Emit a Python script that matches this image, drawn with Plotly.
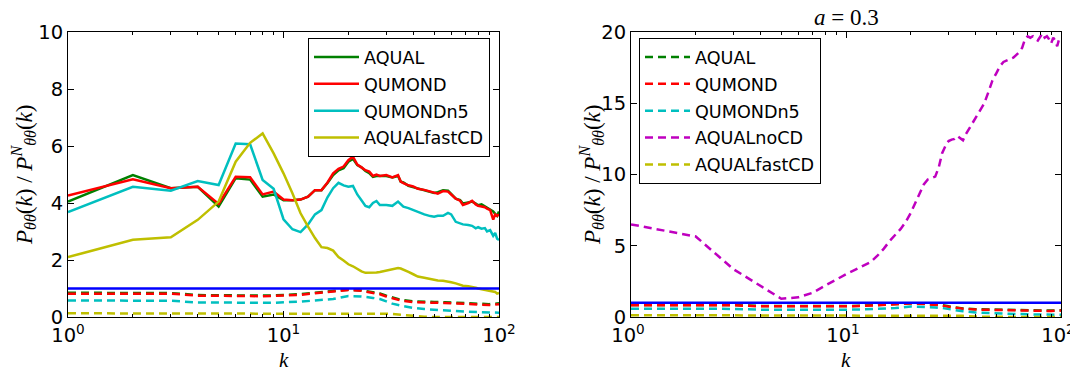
import plotly.graph_objects as go

# ---------------- data ----------------
k_solid = [1, 2, 3, 4, 5, 6, 7, 8, 9, 10, 11, 12, 13, 14, 15, 16, 17, 18, 19, 20, 21,
           22, 23, 24, 25, 26, 27, 28, 30, 32, 34, 35, 36, 38, 40, 42, 45, 48, 50, 52,
           55, 58, 60, 63, 66, 68, 72, 75, 78, 80, 83, 86, 88, 91, 94, 96, 98, 100]

aqual_solid = [4.05, 4.98, 4.52, 4.57, 3.88, 4.87, 4.82, 4.22, 4.30, 4.10, 4.10, 4.12, 4.22,
               4.45, 4.45, 4.70, 4.98, 5.15, 5.22, 5.45, 5.55, 5.33, 5.25, 5.12, 5.05, 4.92,
               4.95, 4.95, 4.95, 4.90, 4.95, 4.75, 4.72, 4.60, 4.55, 4.50, 4.45, 4.38, 4.35,
               4.38, 4.45, 4.43, 4.30, 4.15, 4.10, 3.98, 4.02, 4.05, 3.98, 3.92, 3.95, 3.88,
               3.85, 3.78, 3.70, 3.62, 3.55, 3.70]

qumond_solid = [4.26, 4.83, 4.52, 4.57, 3.97, 4.92, 4.90, 4.30, 4.40, 4.12, 4.10, 4.12, 4.22,
                4.45, 4.45, 4.72, 5.04, 5.20, 5.28, 5.50, 5.63, 5.35, 5.25, 5.15, 5.10, 4.95,
                5.00, 4.95, 4.98, 4.90, 4.98, 4.75, 4.70, 4.62, 4.58, 4.50, 4.46, 4.40, 4.35,
                4.33, 4.42, 4.40, 4.30, 4.15, 4.08, 3.93, 4.00, 4.08, 3.95, 3.90, 3.88, 3.85,
                3.80, 3.75, 3.42, 3.60, 3.55, 3.60]

qumondn5_solid = [3.68, 4.57, 4.43, 4.77, 4.63, 6.09, 6.06, 4.81, 4.50, 3.43, 3.08, 2.98, 3.25,
                  3.60, 3.75, 4.20, 4.52, 4.71, 4.62, 4.57, 4.60, 4.30, 4.10, 3.90, 3.85, 4.00,
                  4.07, 3.93, 3.93, 3.90, 4.05, 3.95, 3.87, 3.82, 3.75, 3.70, 3.60, 3.54, 3.52,
                  3.55, 3.55, 3.65, 3.60, 3.34, 3.30, 3.25, 3.23, 3.20, 3.11, 3.15, 3.10, 3.12,
                  3.00, 3.05, 2.85, 2.95, 2.75, 2.70]

fastcd_solid = [2.10, 2.71, 2.80, 3.41, 4.05, 5.45, 6.11, 6.44, 5.74, 5.04, 4.34, 3.64, 3.17,
                2.77, 2.45, 2.42, 2.33, 2.10, 1.98, 1.85, 1.78, 1.68, 1.60, 1.55, 1.55, 1.57,
                1.56, 1.58, 1.63, 1.68, 1.72, 1.70, 1.65, 1.58, 1.50, 1.42, 1.38, 1.33, 1.31,
                1.28, 1.27, 1.25, 1.22, 1.18, 1.12, 1.10, 1.08, 1.06, 1.03, 1.00, 0.98, 0.96,
                0.95, 0.93, 0.90, 0.88, 0.82, 0.84]

k_dash = [1, 2, 3, 4, 5, 6, 7, 8, 9, 10, 12, 14, 17, 20, 23, 26, 28, 30, 32, 35, 40, 45,
          50, 56, 63, 70, 80, 90, 100]
aqual_dash = [0.85, 0.85, 0.84, 0.77, 0.76, 0.75, 0.75, 0.75, 0.76, 0.77, 0.80, 0.85, 0.92,
              0.96, 0.93, 0.88, 0.83, 0.75, 0.68, 0.60, 0.55, 0.53, 0.53, 0.52, 0.50, 0.48,
              0.46, 0.45, 0.48]
qumond_dash = [0.82, 0.83, 0.82, 0.75, 0.74, 0.73, 0.73, 0.73, 0.74, 0.75, 0.78, 0.83, 0.90,
               0.95, 0.92, 0.86, 0.80, 0.72, 0.65, 0.58, 0.52, 0.50, 0.50, 0.49, 0.48, 0.46,
               0.44, 0.42, 0.45]
qumondn5_dash = [0.58, 0.58, 0.57, 0.51, 0.50, 0.50, 0.50, 0.50, 0.50, 0.51, 0.54, 0.58, 0.63,
                 0.74, 0.72, 0.67, 0.63, 0.55, 0.47, 0.40, 0.32, 0.28, 0.25, 0.24, 0.21, 0.19,
                 0.17, 0.16, 0.15]
fastcd_dash = [0.13, 0.13, 0.13, 0.13, 0.13, 0.13, 0.13, 0.13, 0.13, 0.13, 0.13, 0.13, 0.13,
               0.13, 0.13, 0.13, 0.13, 0.12, 0.11, 0.08, 0.03, 0.01, 0.0, 0.0, 0.0, 0.0,
               0.0, 0.0, 0.0]

k_nocd = [1, 2, 3, 4, 5, 6, 7, 8, 9, 10, 11, 12, 13, 14, 15, 16, 17, 18, 19, 20, 21, 22,
          23, 24, 25, 26, 27, 28, 29, 30, 31, 32, 33, 34, 35, 36, 38, 40, 42, 44, 46, 48,
          50, 52, 54, 56, 58, 60, 62, 64, 66, 68, 70, 72, 74, 76, 78, 80, 82, 84, 86, 88,
          90, 92, 94, 96, 98, 100]
aqual_nocd = [6.50, 5.65, 3.35, 2.15, 1.28, 1.38, 1.70, 2.20, 2.65, 3.00, 3.30, 3.60, 3.85,
              4.30, 4.80, 5.35, 5.80, 6.20, 6.70, 7.30, 8.00, 8.70, 9.30, 9.65, 9.75, 9.85,
              10.50, 11.50, 12.00, 12.35, 12.45, 12.50, 12.70, 12.55, 12.40, 12.80, 13.40,
              13.90, 14.50, 15.00, 15.80, 16.60, 17.10, 17.60, 17.90, 18.00, 18.10, 18.20,
              18.40, 18.60, 18.90, 19.50, 19.70, 19.60, 19.70, 19.50, 19.40, 19.70, 19.90,
              19.60, 19.70, 19.50, 19.20, 19.60, 19.40, 19.00, 19.50, 19.30]

k_ref = [1, 100]
ref_line = [1.0, 1.0]

left_ticks_y = [0, 2, 4, 6, 8, 10]
right_ticks_y = [0, 5, 10, 15, 20]
x_tickvals = [1, 10, 100]
x_ticktext = ["10<sup>0</sup>", "10<sup>1</sup>", "10<sup>2</sup>"]
minor_vals = [2, 3, 4, 5, 6, 7, 8, 9, 20, 30, 40, 50, 60, 70, 80, 90]

# ---------------- styling ----------------
GREEN, RED, CYAN, MAG, YEL, BLUE = "#008000", "#ff0000", "#00bfbf", "#bf00bf", "#bfbf00", "#0000ff"
LW = 2.5
DASH = "8px,5px"
SANS = "DejaVu Sans"
SERIF = "Liberation Serif"

# page body has an 8px margin: the figure starts at (8, 8) in the window
OFF = 8
W, H = 1078 - OFF, 371 - OFF

def px(X):
    return (X - OFF) / W

def py(Y):
    return (H - (Y - OFF)) / H

fig = go.Figure()

for i, (name, y, c) in enumerate([("AQUAL", aqual_solid, GREEN), ("QUMOND", qumond_solid, RED),
                                  ("QUMONDn5", qumondn5_solid, CYAN),
                                  ("AQUALfastCD", fastcd_solid, YEL)]):
    fig.add_trace(go.Scatter(x=k_solid, y=y, mode="lines", name=name,
                             line=dict(color=c, width=LW), legend="legend",
                             legendgroup=f"L{i}", xaxis="x", yaxis="y"))
for y, c in [(aqual_dash, GREEN), (qumond_dash, RED), (qumondn5_dash, CYAN), (fastcd_dash, YEL)]:
    fig.add_trace(go.Scatter(x=k_dash, y=y, mode="lines", showlegend=False,
                             line=dict(color=c, width=LW, dash=DASH),
                             xaxis="x", yaxis="y"))
fig.add_trace(go.Scatter(x=k_ref, y=ref_line, mode="lines", showlegend=False,
                         line=dict(color=BLUE, width=LW), xaxis="x", yaxis="y"))

for i, (name, kx, y, c) in enumerate([("AQUAL", k_dash, aqual_dash, GREEN),
                                      ("QUMOND", k_dash, qumond_dash, RED),
                                      ("QUMONDn5", k_dash, qumondn5_dash, CYAN),
                                      ("AQUALnoCD", k_nocd, aqual_nocd, MAG),
                                      ("AQUALfastCD", k_dash, fastcd_dash, YEL)]):
    fig.add_trace(go.Scatter(x=kx, y=y, mode="lines", name=name,
                             line=dict(color=c, width=LW, dash=DASH), legend="legend2",
                             legendgroup=f"R{i}", xaxis="x2", yaxis="y2"))
fig.add_trace(go.Scatter(x=k_ref, y=ref_line, mode="lines", showlegend=False,
                         line=dict(color=BLUE, width=LW), xaxis="x2", yaxis="y2"))

ydom = [py(317), py(32)]

def xaxis(dom, anchor, shift=0):
    return dict(type="log", domain=dom, range=[0, 2], anchor=anchor, automargin=False,
                tickvals=x_tickvals, ticktext=x_ticktext, ticks="inside", ticklen=6,
                tickwidth=1, tickcolor="black", showline=True, linecolor="black",
                linewidth=1, mirror="ticks", showgrid=False, zeroline=False,
                ticklabelstandoff=1, ticklabelshift=shift,
                tickfont=dict(family=SANS, size=19.5, color="black"),
                minor=dict(ticks="inside", ticklen=3, tickcolor="black",
                           tickvals=minor_vals, showgrid=False))

def yaxis(rng, vals, anchor):
    return dict(domain=ydom, range=rng, anchor=anchor, tickvals=vals, automargin=False,
                ticks="inside", ticklen=6, tickwidth=1, tickcolor="black",
                showline=True, linecolor="black", linewidth=1, mirror="ticks",
                showgrid=False, zeroline=False,
                tickfont=dict(family=SANS, size=19.5, color="black"))

legend_common = dict(bgcolor="white", bordercolor="black", borderwidth=1,
                     font=dict(family=SANS, size=17.6, color="black"),
                     itemwidth=45, tracegroupgap=1, yanchor="top", y=py(38))

ylab = ("<i>P</i><sub><i>θθ</i></sub>(<i>k</i>) / "
        "<i>P</i><sup><i>N</i></sup><sub><i>θθ</i></sub>(<i>k</i>)")

def ann(text, X, Y, size, angle=0):
    return dict(text=text, x=px(X), y=py(Y), xref="paper", yref="paper",
                xanchor="center", yanchor="middle", textangle=angle, showarrow=False,
                font=dict(family=SERIF, size=size, color="black"))

fig.update_layout(
    template="none",
    width=W, height=H, margin=dict(l=0, r=0, t=0, b=0, autoexpand=False),
    plot_bgcolor="white", paper_bgcolor="white",
    xaxis=xaxis([px(68), px(499)], "y"),
    yaxis=yaxis([0, 10], left_ticks_y, "x"),
    xaxis2=xaxis([px(631), px(1061)], "y2", shift=-3),
    yaxis2=yaxis([0, 20], right_ticks_y, "x2"),
    legend=dict(legend_common, x=px(490), xanchor="right"),
    legend2=dict(legend_common, x=px(639), xanchor="left"),
    annotations=[
        ann("<i>k</i>", 283.5, 360, 21),
        ann("<i>k</i>", 846, 360, 21),
        ann(ylab, 23, 175, 23, -90),
        ann(ylab, 591, 175, 23, -90),
        ann("<i>a</i> = 0.3", 846, 18, 23),
    ],
)

fig.write_html("out.html")
